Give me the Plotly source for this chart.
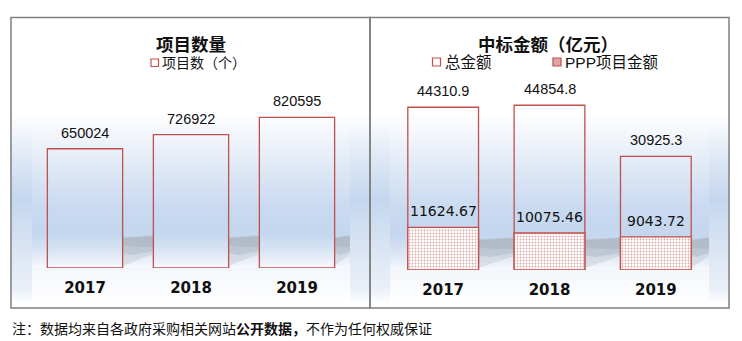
import base64
import plotly.graph_objects as go

# ---- data ----
years = ["2017", "2018", "2019"]
project_counts = [650024, 726922, 820595]          # 项目数（个）
total_amounts = [44310.9, 44854.8, 30925.3]        # 总金额（亿元）
ppp_amounts = [11624.67, 10075.46, 9043.72]        # PPP项目金额（亿元）

W, H = 742, 341
RED = "#c0504d"
CJK = "Noto Sans CJK SC"


def px(x):
    return x / W


def py(y):
    return 1 - y / H


idx = list(range(len(years)))
w_left, w_right = 0.71, 0.665

fig = go.Figure()

fig.add_trace(go.Bar(
    x=idx, y=project_counts, width=w_left, name="项目数（个）",
    marker=dict(color="rgba(0,0,0,0)", line=dict(color=RED, width=1.3)),
    xaxis="x", yaxis="y", showlegend=False, hoverinfo="skip"))

fig.add_trace(go.Bar(
    x=idx, y=total_amounts, width=w_right, name="总金额",
    marker=dict(color="rgba(0,0,0,0)", line=dict(color=RED, width=1.3)),
    xaxis="x2", yaxis="y2", showlegend=False, hoverinfo="skip"))

fig.add_trace(go.Bar(
    x=idx, y=ppp_amounts, width=w_right, name="PPP项目金额",
    marker=dict(color="white", line=dict(color=RED, width=1.3),
                pattern=dict(shape=".", fgcolor=RED, bgcolor="white",
                             size=3, solidity=0.3)),
    xaxis="x2", yaxis="y2", showlegend=False, hoverinfo="skip"))

annotations = []
num_font = dict(family="Liberation Sans, Arial", size=14.5, color="#111")
for i, v in zip(idx, project_counts):
    annotations.append(dict(x=i, y=v, xref="x", yref="y", text=str(v),
                            showarrow=False, yanchor="bottom", yshift=6,
                            font=num_font))
for i, v in zip(idx, total_amounts):
    annotations.append(dict(x=i, y=v, xref="x2", yref="y2", text=f"{v:.1f}",
                            showarrow=False, yanchor="bottom", yshift=6,
                            font=num_font))
for i, v in zip(idx, ppp_amounts):
    annotations.append(dict(x=i, y=v, xref="x2", yref="y2", text=f"{v:.2f}",
                            showarrow=False, yanchor="bottom", yshift=6,
                            font=dict(family="DejaVu Sans", size=14, color="#111")))


def paper_text(x, y, text, font, xanchor="center"):
    return dict(x=px(x), y=py(y), xref="paper", yref="paper", text=text,
                showarrow=False, xanchor=xanchor, yanchor="middle", font=font)


# titles
annotations.append(paper_text(191, 43, "<b>项目数量</b>",
                              dict(family=CJK, size=17.5, color="#111")))
annotations.append(paper_text(547.5, 43, "<b>中标金额（亿元）</b>",
                              dict(family=CJK, size=17.5, color="#111")))

# legend texts
leg_font_l = dict(family="Liberation Sans, " + CJK, size=14, color="#111")
leg_font_r = dict(family="Liberation Sans, " + CJK, size=15.5, color="#111")
annotations.append(paper_text(160, 63, "项目数（个）", leg_font_l, "left"))
annotations.append(paper_text(443, 62, "总金额", leg_font_r, "left"))
annotations.append(paper_text(563, 62, "PPP项目金额", leg_font_r, "left"))

# footnote
annotations.append(paper_text(
    10, 328, "注：数据均来自各政府采购相关网站<b>公开数据，</b>不作为任何权威保证",
    dict(family=CJK, size=14, color="#111"), "left"))

shapes = []
# legend swatches
shapes.append(dict(type="rect", xref="paper", yref="paper",
                   x0=px(151), x1=px(158.5), y0=py(59), y1=py(66.5),
                   line=dict(color=RED, width=1.2), fillcolor="white"))
shapes.append(dict(type="rect", xref="paper", yref="paper",
                   x0=px(432.5), x1=px(440.5), y0=py(58), y1=py(66),
                   line=dict(color=RED, width=1.2), fillcolor="white"))
shapes.append(dict(type="rect", xref="paper", yref="paper",
                   x0=px(553), x1=px(561), y0=py(58), y1=py(66),
                   line=dict(color=RED, width=1.2),
                   fillcolor="rgba(200,90,88,0.55)"))

# panel frames
for x0, x1 in [(11, 370), (370, 729)]:
    shapes.append(dict(type="rect", xref="paper", yref="paper",
                       x0=px(x0), x1=px(x1), y0=py(17.5), y1=py(308),
                       line=dict(color="#7f7f7f", width=1.5),
                       fillcolor="rgba(0,0,0,0)", layer="above"))


# soft floor shadows cast between bars
def shadow_paths(xref, width, floor):
    out = []
    for i in idx:
        xr = i + width / 2
        xn = i + 1 - width / 2 if i < len(idx) - 1 else len(idx) - 0.5
        span = xn - xr
        layers = [
            ([(xr, floor - 31), (xn, floor - 33), (xn, floor - 14), (xr, floor - 2)],
             "rgba(180,188,198,0.35)"),
            ([(xr, floor - 30), (xn, floor - 32), (xn, floor - 17), (xr + 0.3 * span, floor - 13), (xr, floor - 15)],
             "rgba(165,173,184,0.35)"),
            ([(xr, floor - 30), (xn, floor - 32), (xn, floor - 21), (xr + 0.4 * span, floor - 21), (xr, floor - 23)],
             "rgba(160,168,180,0.3)"),
        ]
        for pts, col in layers:
            d = "M " + " L ".join(f"{x},{py(y)}" for x, y in pts) + " Z"
            out.append(dict(type="path", xref=xref, yref="paper", path=d,
                            fillcolor=col, line=dict(width=0), layer="below"))
    return out


shapes += shadow_paths("x", w_left, 268)
shapes += shadow_paths("x2", w_right, 270)


# gradient backdrop of each panel (side walls, back plane and floor)
def panel_svg(pw, ph, ix0, ix1, iy0, iy1):
    svg = f'''<svg xmlns="http://www.w3.org/2000/svg" width="{pw}" height="{ph}" viewBox="0 0 {pw} {ph}" preserveAspectRatio="none">
<defs>
<linearGradient id="wall" x1="0" y1="0" x2="0" y2="1">
<stop offset="0" stop-color="#ffffff"/>
<stop offset="0.25" stop-color="#dde7f5"/>
<stop offset="0.45" stop-color="#c4d7ef"/>
<stop offset="0.7" stop-color="#d9e4f3"/>
<stop offset="0.92" stop-color="#eaf0f8"/>
<stop offset="1" stop-color="#ffffff"/>
</linearGradient>
<linearGradient id="back" x1="0" y1="0" x2="0" y2="1">
<stop offset="0" stop-color="#ffffff"/>
<stop offset="0.3" stop-color="#e4ecf7"/>
<stop offset="0.62" stop-color="#c8d9f0"/>
<stop offset="0.78" stop-color="#c4d7ef"/>
<stop offset="0.9" stop-color="#dce6f4"/>
<stop offset="1" stop-color="#f7f9fd"/>
</linearGradient>
<linearGradient id="floor" x1="0" y1="0" x2="0" y2="1">
<stop offset="0" stop-color="#f3f6fb"/>
<stop offset="1" stop-color="#ffffff"/>
</linearGradient>
</defs>
<rect x="0" y="{iy0}" width="{pw}" height="{ph - iy0 - 4}" fill="url(#wall)"/>
<rect x="{ix0}" y="{iy0}" width="{ix1 - ix0}" height="{iy1 - iy0}" fill="url(#back)"/>
<rect x="{ix0}" y="{iy1}" width="{ix1 - ix0}" height="{ph - iy1 - 4}" fill="url(#floor)"/>
</svg>'''
    return "data:image/svg+xml;base64," + base64.b64encode(svg.encode()).decode()


images = [
    dict(source=panel_svg(359, 291, 21, 339, 96, 251), xref="paper", yref="paper",
         x=px(11), y=py(17), sizex=359 / W, sizey=291 / H, sizing="stretch",
         xanchor="left", yanchor="top", layer="below"),
    dict(source=panel_svg(359, 291, 20, 339, 96, 253), xref="paper", yref="paper",
         x=px(370), y=py(17), sizex=359 / W, sizey=291 / H, sizing="stretch",
         xanchor="left", yanchor="top", layer="below"),
]

tick_font = dict(family="DejaVu Sans", size=15, color="#111", weight="bold")
xaxis_common = dict(tickmode="array", tickvals=idx, ticktext=years,
                    range=[-0.5, len(idx) - 0.5], showgrid=False, zeroline=False,
                    showline=False, ticks="", tickfont=tick_font,
                    ticklabelstandoff=9, fixedrange=True)
yaxis_common = dict(showgrid=False, zeroline=False, showline=False,
                    showticklabels=False, ticks="", fixedrange=True)

fig.update_layout(
    width=W, height=H, margin=dict(l=0, r=0, t=0, b=0),
    paper_bgcolor="white", plot_bgcolor="rgba(0,0,0,0)",
    barmode="overlay", showlegend=False,
    xaxis=dict(domain=[px(32), px(350)], anchor="y", **xaxis_common),
    yaxis=dict(domain=[py(268), py(100)], range=[0, 168 * 5450], anchor="x",
               **yaxis_common),
    xaxis2=dict(domain=[px(390), px(709)], anchor="y2", **xaxis_common),
    yaxis2=dict(domain=[py(270), py(100)], range=[0, 170 * 272.3], anchor="x2",
                **yaxis_common),
    annotations=annotations, shapes=shapes, images=images,
)

fig.write_html("out.html")
